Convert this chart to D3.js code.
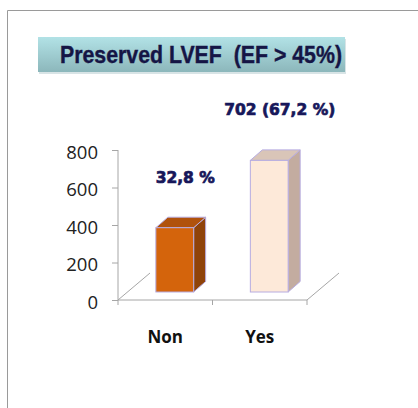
<!DOCTYPE html>
<html><head><meta charset="utf-8">
<script src="https://cdn.jsdelivr.net/npm/d3@7"></script>
<style>html,body{margin:0;padding:0;background:#fff;}svg{display:block;}</style>
</head><body>
<script>
const categories = ["Non", "Yes"];
const values = [343, 702];
const valueLabels = ["32,8 %", "702 (67,2 %)"];
const yTicks = [0, 200, 400, 600, 800];
const titleText = "Preserved LVEF  (EF > 45%)";

const W = 418, H = 408;
const svg = d3.select("body").append("svg").attr("width", W).attr("height", H);

// frame (top and left visible)
svg.append("line").attr("x1", 7.5).attr("y1", 10.5).attr("x2", W).attr("y2", 10.5).attr("stroke", "#9a9a9a");
svg.append("line").attr("x1", 7.5).attr("y1", 10.5).attr("x2", 7.5).attr("y2", H).attr("stroke", "#9a9a9a");

// title box
const defs = svg.append("defs");
const g1 = defs.append("linearGradient").attr("id", "tg").attr("x1", 0).attr("y1", 0).attr("x2", 0).attr("y2", 1);
g1.append("stop").attr("offset", "0%").attr("stop-color", "#b2e2e6");
g1.append("stop").attr("offset", "100%").attr("stop-color", "#8cb7bb");
svg.append("rect").attr("x", 39).attr("y", 39).attr("width", 307).attr("height", 35).attr("fill", "#d8e4e6");
svg.append("rect").attr("x", 38).attr("y", 37).attr("width", 307).attr("height", 35).attr("fill", "url(#tg)");
svg.append("text").attr("x", 60).attr("y", 63)
  .style("white-space", "pre").attr("xml:space", "preserve")
  .attr("textLength", 282).attr("lengthAdjust", "spacingAndGlyphs")
  .attr("font-family", "Liberation Sans, Arial, sans-serif").attr("font-weight", "bold")
  .attr("font-size", 24).attr("fill", "#151545").attr("stroke", "#151545").attr("stroke-width", 0.4)
  .text(titleText);

// scales
const x = d3.scaleBand().domain(categories).range([118, 307]).paddingInner(0).paddingOuter(0);
const y = d3.scaleLinear().domain([0, 800]).range([300, 150]);

const axisColor = "#a6a6a6";
// y axis
const yAxis = svg.append("g").attr("transform", "translate(118,0)")
  .call(d3.axisLeft(y).tickValues(yTicks).tickSize(6).tickPadding(14).tickFormat(d3.format("d")));
yAxis.select(".domain").attr("stroke", axisColor).attr("d", `M0,${y(800)}V${y(0)}`);
yAxis.selectAll(".tick line").attr("stroke", axisColor);
yAxis.selectAll(".tick text").attr("font-family", "Open Sans, sans-serif").attr("font-size", 18.5)
  .attr("fill", "#222").attr("dy", "0.45em");

// x axis
const xAxis = svg.append("g").attr("transform", "translate(0,300)")
  .call(d3.axisBottom(x).tickSize(0).tickPadding(31));
xAxis.select(".domain").attr("stroke", axisColor).attr("d", "M118,0H307");
xAxis.selectAll(".tick text").attr("font-family", "Open Sans, sans-serif").attr("font-weight", "bold")
  .attr("font-size", 17).attr("fill", "#111");
// category boundary ticks
const bounds = [x.range()[0], ...categories.slice(1).map(c => x(c)), x.range()[1]];
svg.selectAll(".bt").data(bounds).enter().append("line")
  .attr("x1", d => d).attr("x2", d => d).attr("y1", 300).attr("y2", 305).attr("stroke", axisColor);

// floor depth lines
const fdx = 32, fdy = -27;
[x.range()[0], x.range()[1]].forEach(px => {
  svg.append("line").attr("x1", px).attr("y1", 300).attr("x2", px + fdx).attr("y2", 300 + fdy).attr("stroke", axisColor);
});

// bars
const bw = x.bandwidth() * 0.4;
const offX = 9.5, offY = -8;
const dx = 12, dy = -10.5;
const colors = [
  {front: "#d4640c", side: "#8f4309", top: "#b0520c"},
  {front: "#fde9d9", side: "#c3aca0", top: "#d9c5b8"}
];
const stroke = "#b7ace0";
categories.forEach((c, i) => {
  const x0 = x(c) + (x.bandwidth() - bw) / 2 + offX;
  const x1 = x0 + bw;
  const yb = y(0) + offY;
  const yt = y(values[i]) + offY;
  const gb = svg.append("g");
  gb.append("polygon").attr("points", [[x1, yb], [x1 + dx, yb + dy], [x1 + dx, yt + dy], [x1, yt]].join(" "))
    .attr("fill", colors[i].side).attr("stroke", stroke).attr("stroke-width", 1);
  gb.append("polygon").attr("points", [[x0, yt], [x1, yt], [x1 + dx, yt + dy], [x0 + dx, yt + dy]].join(" "))
    .attr("fill", colors[i].top).attr("stroke", stroke).attr("stroke-width", 1);
  gb.append("rect").attr("x", x0).attr("y", yt).attr("width", bw).attr("height", yb - yt)
    .attr("fill", colors[i].front).attr("stroke", stroke).attr("stroke-width", 1);
  svg.append("text").attr("x", x(c) + x.bandwidth() / 2 + 20).attr("y", y(values[i]) - 53)
    .attr("text-anchor", "middle").attr("font-family", "DejaVu Sans, Verdana, sans-serif")
    .attr("font-weight", "bold").attr("font-size", 15.5).attr("fill", "#17175a")
    .attr("stroke", "#17175a").attr("stroke-width", 0.7).text(valueLabels[i]);
});
</script>
</body></html>
